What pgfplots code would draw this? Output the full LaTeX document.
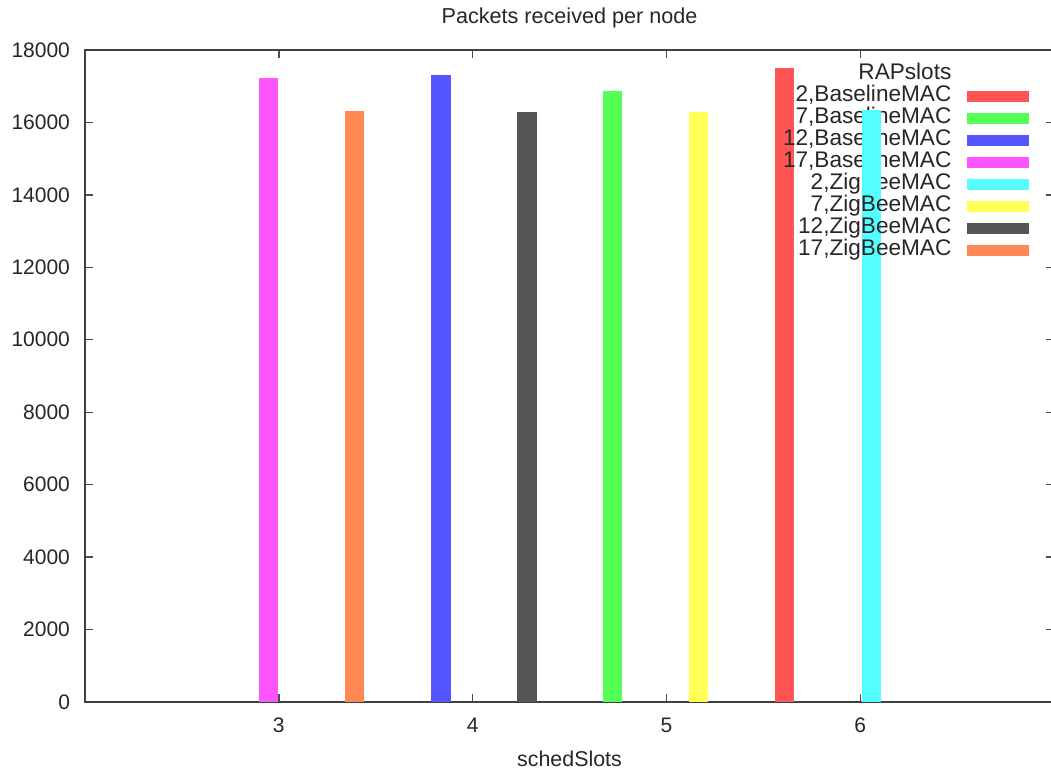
\documentclass[border=0pt]{standalone}
\usepackage{fontspec}
\setmainfont{Liberation Sans}
\usepackage{pgfplots}
\pgfplotsset{compat=1.18}

\definecolor{gpred}{HTML}{FF5555}
\definecolor{gpgreen}{HTML}{55FF55}
\definecolor{gpblue}{HTML}{5555FF}
\definecolor{gpmagenta}{HTML}{FF55FF}
\definecolor{gpcyan}{HTML}{55FFFF}
\definecolor{gpyellow}{HTML}{FFFF55}
\definecolor{gpgray}{HTML}{555555}
\definecolor{gporange}{HTML}{FF8855}

\pgfplotsset{
  gpbar/.style={ybar, bar width=0.1, bar shift=0pt, draw=none, fill=#1},
}

\begin{document}
\begin{tikzpicture}
\begin{axis}[
  name=main,
  scale only axis,
  width=484.5pt, height=326pt,
  xmin=2, xmax=7, ymin=0, ymax=18000,
  xtick={3,4,5,6},
  ytick={0,2000,...,18000},
  scaled y ticks=false,
  /pgf/number format/1000 sep={},
  /pgf/number format/assume math mode=true,
  tick align=inside,
  major tick length=4pt,
  axis line style={black!75, line width=0.9pt},
  tick style={black!70, line width=0.7pt},
  ticklabel style={font=\fontsize{10.5}{12}\selectfont, text=black!85},
  yticklabel style={xshift=-4pt},
  xticklabel style={yshift=-4.5pt},
  title={Packets received per node},
  title style={font=\fontsize{10.8}{12}\selectfont, text=black!85, yshift=1.5pt},
  xlabel={schedSlots},
  xlabel style={font=\fontsize{10.7}{12}\selectfont, text=black!85, yshift=-2pt},
  legend image code/.code={\path[#1] (0pt,-2.75pt) rectangle (31pt,2.75pt);},
  legend plot pos=right,
  legend cell align=right,
  legend style={
    at={(axis cs:6.875,17650)}, anchor=north east,
    draw=none, fill=none, inner sep=0pt,
    column sep=8pt,
    nodes={inner xsep=0pt, inner ysep=0.5pt, text height=7.5pt, text depth=2.5pt,
           font=\fontsize{11.3}{12}\selectfont, text=black!85},
  },
]
\coordinate (tl) at (rel axis cs:0,1);
\coordinate (bl) at (rel axis cs:0,0);
\coordinate (tr) at (rel axis cs:1,1);

\addlegendimage{empty legend}
\addlegendentry{RAPslots}

\addplot[gpbar=gpred]     coordinates {(5.610,17514)};
\addlegendentry{2,BaselineMAC}
\addplot[gpbar=gpgreen]   coordinates {(4.722,16870)};
\addlegendentry{7,BaselineMAC}
\addplot[gpbar=gpblue]    coordinates {(3.837,17312)};
\addlegendentry{12,BaselineMAC}
\addplot[gpbar=gpmagenta] coordinates {(2.947,17220)};
\addlegendentry{17,BaselineMAC}
\addplot[gpbar=gpcyan]    coordinates {(6.057,16345)};
\addlegendentry{2,ZigBeeMAC}
\addplot[gpbar=gpyellow]  coordinates {(5.167,16282)};
\addlegendentry{7,ZigBeeMAC}
\addplot[gpbar=gpgray]    coordinates {(4.281,16298)};
\addlegendentry{12,ZigBeeMAC}
\addplot[gpbar=gporange]  coordinates {(3.390,16317)};
\addlegendentry{17,ZigBeeMAC}
\end{axis}

% cyan bar drawn again over the first legend rows, as in the reference
\begin{axis}[
  at={(tl)}, anchor=north west,
  scale only axis,
  width=484.5pt, height=70.63pt,
  xmin=2, xmax=7, ymin=14100, ymax=18000,
  hide axis,
]
\addplot[gpbar=gpcyan] coordinates {(6.057,16345)};
\end{axis}

\pgfresetboundingbox
\path[use as bounding box] ([xshift=-42.5pt,yshift=-33.5pt]bl) rectangle ([xshift=-1.5pt,yshift=25pt]tr);
\end{tikzpicture}
\end{document}
